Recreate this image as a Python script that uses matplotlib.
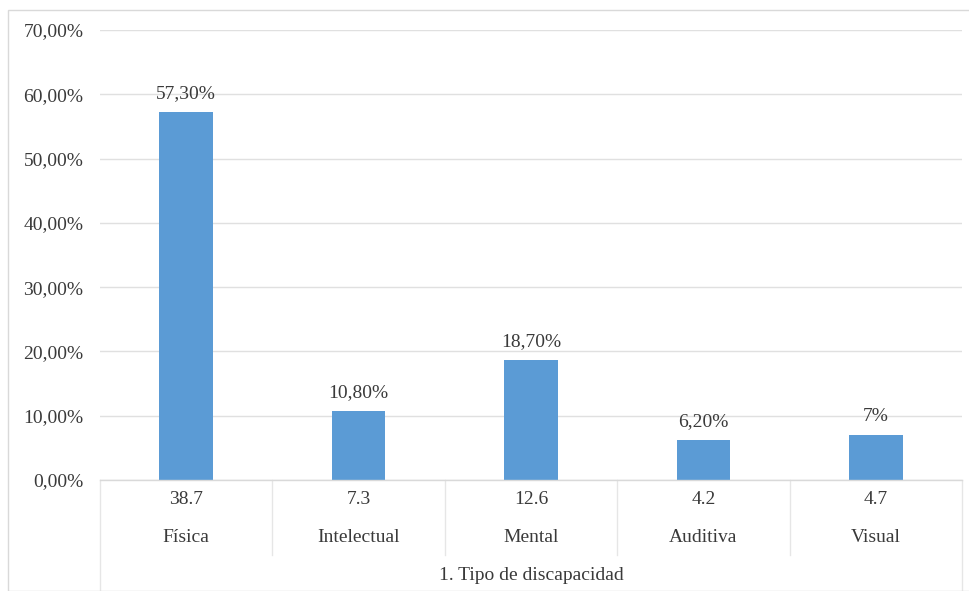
import numpy as np
import matplotlib.pyplot as plt
from matplotlib.transforms import blended_transform_factory
from matplotlib.patches import Rectangle

plt.rcParams['font.family'] = ['Liberation Serif', 'DejaVu Serif']

categories = ['Física', 'Intelectual', 'Mental', 'Auditiva', 'Visual']
counts = ['38.7', '7.3', '12.6', '4.2', '4.7']
values = [57.3, 10.8, 18.7, 6.2, 7.0]
value_labels = ['57,30%', '10,80%', '18,70%', '6,20%', '7%']
yticks = [0, 10, 20, 30, 40, 50, 60, 70]
ytick_labels = ['0,00%', '10,00%', '20,00%', '30,00%', '40,00%', '50,00%', '60,00%', '70,00%']
axis_title = '1. Tipo de discapacidad'

W, H = 970, 591
fs = 14
tc = '#3a3a3a'
fig = plt.figure(figsize=(W / 100, H / 100), dpi=100)

# outer chart border
fig.patches.append(Rectangle((8 / W, 0), 1.0, 1 - 10 / H, transform=fig.transFigure,
                             fill=False, edgecolor='#d9d9d9', linewidth=1))

ax = fig.add_axes([100 / W, (H - 480) / H, (962 - 100) / W, (480 - 30) / H])
x = np.arange(len(categories))
ax.bar(x, values, width=0.31, color='#5b9bd5', zorder=3)
ax.set_xlim(-0.5, len(categories) - 0.5)
ax.set_ylim(0, 70)
ax.set_yticks(yticks)
ax.set_yticklabels(ytick_labels, fontsize=fs, color=tc)
ax.tick_params(axis='y', length=0, pad=12)
ax.set_xticks([])
for s in ax.spines.values():
    s.set_visible(False)
ax.yaxis.grid(True, color='#e0e0e0', linewidth=1, zorder=0)

for xi, v, lab in zip(x, values, value_labels):
    ax.annotate(lab, (xi, v), xytext=(0, 7), textcoords='offset points',
                ha='center', va='bottom', fontsize=fs, color=tc)

# category table below axis
tr = blended_transform_factory(ax.transData, ax.transAxes)
px = 1 / (480 - 30)
ax.plot([-0.5, len(categories) - 0.5], [0, 0], color='#d9d9d9', lw=1,
        transform=tr, clip_on=False, zorder=4)
for b in np.arange(0.5, len(categories) - 0.5, 1):
    ax.plot([b, b], [0, -75 * px], color='#e6e6e6', lw=1, transform=tr, clip_on=False)
for b in [-0.5, len(categories) - 0.5]:
    ax.plot([b, b], [0, -115 * px], color='#e6e6e6', lw=1, transform=tr, clip_on=False)

for xi, c, n in zip(x, counts, categories):
    ax.text(xi, -19 * px, c, transform=tr, ha='center', va='center',
            fontsize=fs, color=tc)
    ax.text(xi, -58 * px, n, transform=tr, ha='center', va='center',
            fontsize=fs, color=tc)
ax.text((len(categories) - 1) / 2, -95 * px, axis_title, transform=tr,
        ha='center', va='center', fontsize=fs, color=tc)

fig.savefig('out.png', dpi=100)
